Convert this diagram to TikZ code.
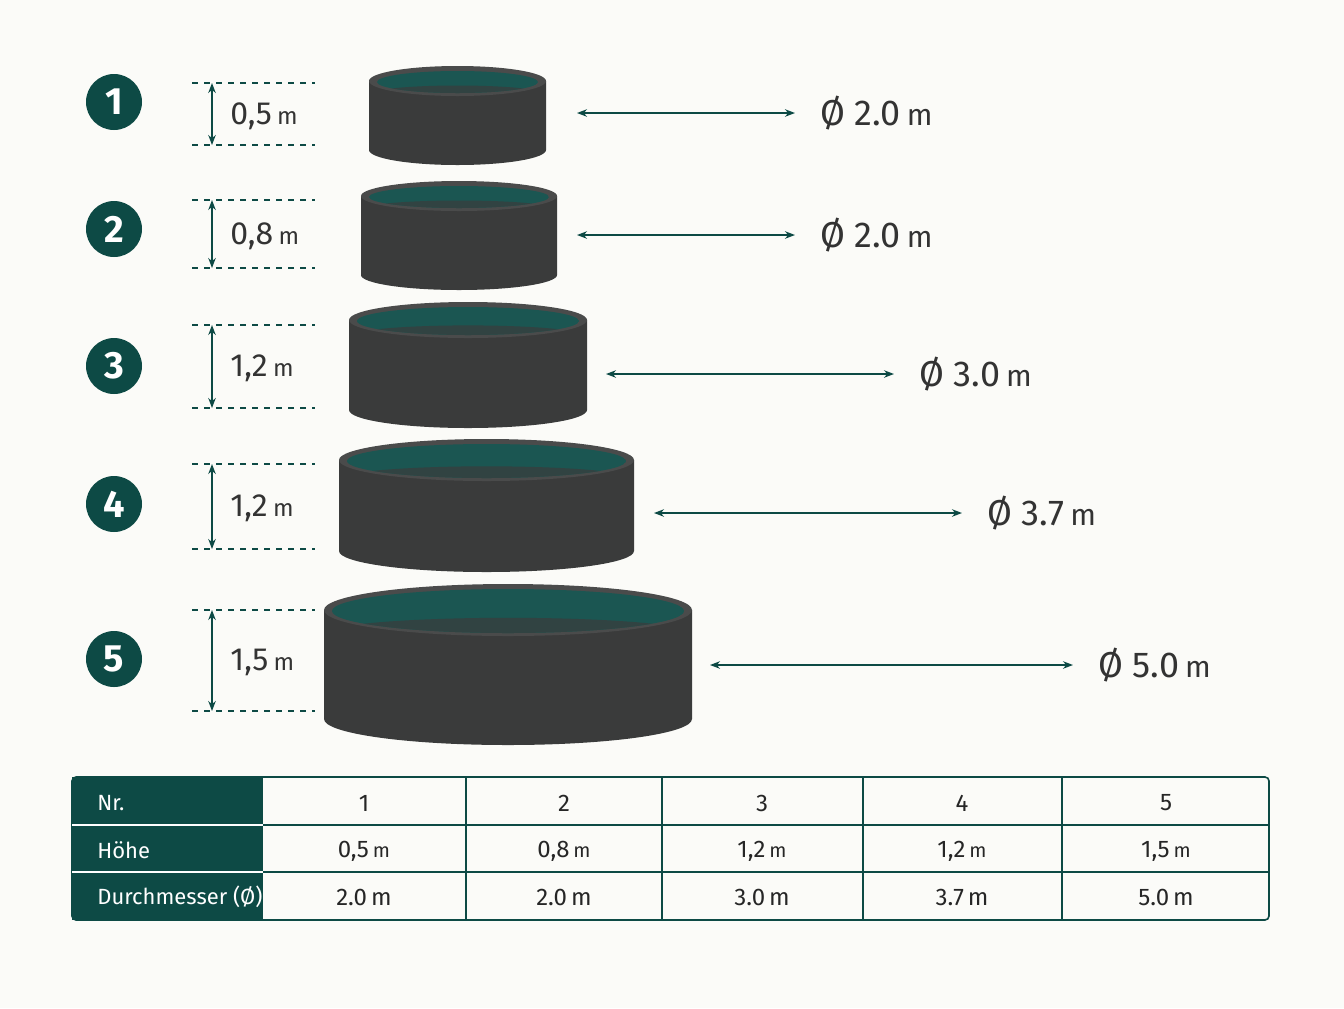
\documentclass[tikz,border=0pt]{standalone}
\usepackage{fontspec}
\setmainfont{Fira Sans}
\usepackage{tikz}
\usetikzlibrary{arrows.meta}
\definecolor{tealdark}{HTML}{0D4A45}
\definecolor{potgray}{HTML}{3A3B3B}
\definecolor{potrim}{HTML}{4A4B4B}
\definecolor{potin}{HTML}{1B5652}
\definecolor{bgcol}{HTML}{FBFBF8}
\tikzset{
  numcirc/.style={circle,fill=tealdark,minimum size=56*0.5pt,inner sep=0pt,text=white,font=\bfseries\fontsize{19}{19}\selectfont},
  dimline/.style={tealdark,dashed,line width=0.6pt},
  dimarrow/.style={tealdark,line width=0.8pt,{Stealth[length=5pt]}-{Stealth[length=5pt]}},
  hlabel/.style={anchor=west,inner sep=0pt,text=black!80,font=\fontsize{16}{16}\selectfont},
  dlabel/.style={anchor=west,inner sep=0pt,text=black!80,font=\fontsize{18}{18}\selectfont},
  cellhead/.style={text=white,anchor=west,inner sep=0pt,font=\fontsize{11}{11}\selectfont},
  cell/.style={text=black!85,inner sep=0pt,font=\fontsize{12}{12}\selectfont}
}
\begin{document}
\begin{tikzpicture}[x=0.5pt,y=-0.5pt]
\fill[bgcol] (0,0) rectangle (1344,1008);
\useasboundingbox (0,0) rectangle (1344,1008);

% pots: nr / left / right / top centre / ry / bottom centre / height / dim top / dim bottom / arrow start / arrow end / y / diameter
\foreach \n/\l/\r/\t/\ry/\b/\h/\dt/\db/\as/\ae/\ay/\d/\cy in {
  1/369/546/81/15/150/{0,5}/83/145/577/795/113/{2.0}/102,
  2/361/557/196/15/275/{0,8}/200/268/577/795/235/{2.0}/229,
  3/349/587/320/18/410/{1,2}/325/408/606/894/374/{3.0}/366,
  4/339/634/460/21/551/{1,2}/464/549/654/962/513/{3.7}/504,
  5/324/692/610/26/719/{1,5}/610/711/710/1073/665/{5.0}/659}{
  \pgfmathsetmacro\cx{(\l+\r)/2}
  \pgfmathsetmacro\rx{(\r-\l)/2}
  % body
  \fill[potgray] (\l,\t) -- (\l,\b) arc[start angle=180,end angle=0,x radius=\rx,y radius=\ry] -- (\r,\t) -- cycle;
  \fill[potrim] (\cx,\t) ellipse[x radius=\rx,y radius=\ry];
  \begin{scope}
    \clip (\cx,\t+1) ellipse[x radius=\rx-8,y radius=\ry-4];
    \fill[potin] (\cx,\t+1) ellipse[x radius=\rx-8,y radius=\ry-4];
    \fill[potgray!70!potin] (\cx,\t+\ry*0.9) ellipse[x radius=\rx,y radius=\ry*0.6];
  \end{scope}
  % number
  \node[numcirc] (nr\n) at (114,\cy) {\n};
  % height
  \draw[dimline] (192,\dt) -- (315,\dt);
  \draw[dimline] (192,\db) -- (315,\db);
  \coordinate (ht\n) at (212,\dt);
  \coordinate (hb\n) at (212,\db);
  \draw[dimarrow] (ht\n) -- (hb\n);
  \node[hlabel] (hl\n) at (230,{(\dt+\db)/2+2}) {\h\,{\fontsize{12}{12}\selectfont m}};
  % diameter
  \coordinate (da\n) at (\as,\ay);
  \coordinate (db\n) at (\ae,\ay);
  \draw[dimarrow] (da\n) -- (db\n);
  \node[dlabel] (dl\n) at (\ae+25,\ay) {Ø \d\,{\fontsize{15}{15}\selectfont m}};
}

% table
\fill[tealdark] (72,777) rectangle (263,920);
\draw[tealdark,line width=0.8pt,rounded corners=2pt] (72,777) rectangle (1269,920);
\draw[white,line width=0.6pt] (72,825) -- (263,825) (72,872) -- (263,872);
\draw[tealdark,line width=0.6pt] (263,825) -- (1269,825) (263,872) -- (1269,872);
\foreach \x in {466,662,863,1062}
  \draw[tealdark,line width=0.6pt] (\x,777) -- (\x,920);
\node[cellhead] (th1) at (97,803) {Nr.};
\node[cellhead] (th2) at (97,850) {Höhe};
\node[cellhead] (th3) at (97,897) {Durchmesser (Ø)};
\foreach \n/\x/\h/\d in {1/364/{0,5}/{2.0},2/564/{0,8}/{2.0},3/762/{1,2}/{3.0},4/962/{1,2}/{3.7},5/1166/{1,5}/{5.0}}{
  \node[cell] (tn\n) at (\x,803) {\n};
  \node[cell] (tp\n) at (\x,851) {\h\,{\fontsize{10}{10}\selectfont m}};
  \node[cell] (td\n) at (\x,897) {\d\,m};
}
\end{tikzpicture}
\end{document}
